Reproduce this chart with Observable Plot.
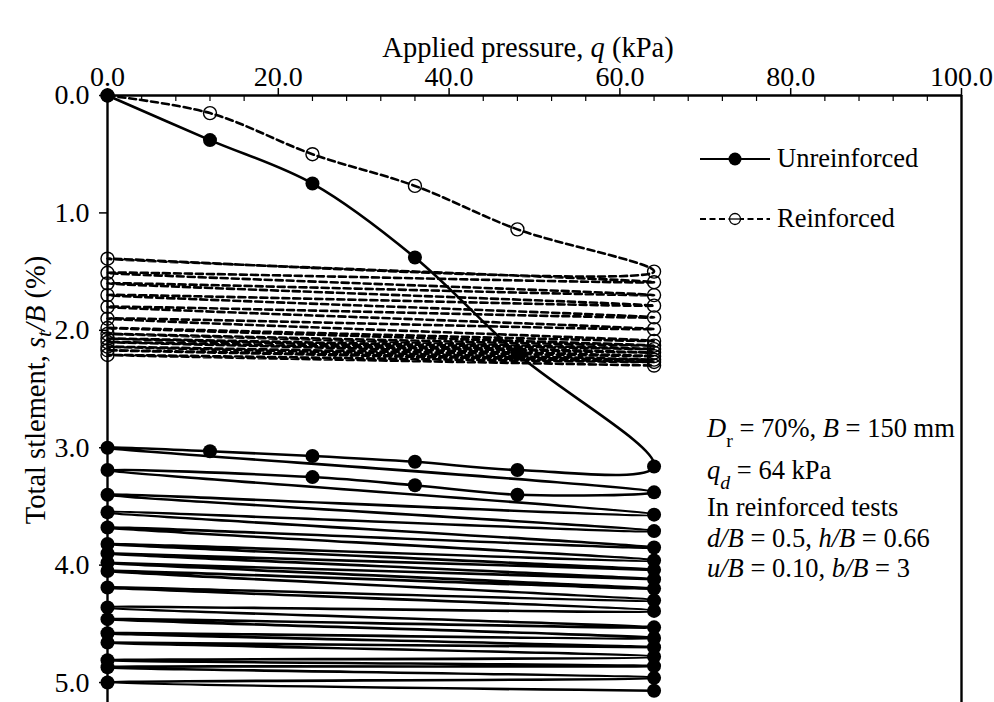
<!DOCTYPE html>
<html>
<head>
<meta charset="utf-8">
<script src="https://cdn.jsdelivr.net/npm/d3@7"></script>
<script src="https://cdn.jsdelivr.net/npm/@observablehq/plot@0.6"></script>
<style>
  body { margin: 0; background: #fff; }
  #chart { position: relative; width: 994px; height: 702px; }
  #chart svg { overflow: visible; }
</style>
</head>
<body>
<div id="chart"></div>
<script>
// Pressure steps of the monotonic loading stage, q (kPa)
const loadSteps = [0, 12, 24, 36, 48, 64];
// Total settlement s_t/B (%) at those steps
const unreinforcedLoading = [0, 0.38, 0.75, 1.38, 2.20, 3.16];
const reinforcedLoading = [0, 0.15, 0.50, 0.77, 1.14, 1.50];

// Unreinforced: readings taken during the first two unloading branches (q = 48, 36, 24, 12)
const firstUnloadSteps = [48, 36, 24, 12];
const firstUnloadSettle = [3.19, 3.12, 3.07, 3.03];
const secondUnloadSteps = [48, 36, 24];
const secondUnloadSettle = [3.40, 3.32, 3.25];

// Cyclic stage, unreinforced: settlement at q = 0 after each unloading, and at q = qd after each reloading
const unreinforcedTroughs = [3.00, 3.19, 3.40, 3.55, 3.68, 3.82, 3.90, 3.98, 4.05, 4.19, 4.36, 4.46, 4.58, 4.66, 4.81, 4.87, 5.00];
const unreinforcedPeaks   = [3.38, 3.57, 3.71, 3.85, 3.96, 4.04, 4.12, 4.20, 4.30, 4.39, 4.53, 4.62, 4.70, 4.78, 4.86, 4.96, 5.07];

// Cyclic stage, reinforced
const reinforcedTroughs = [1.39, 1.51, 1.60, 1.70, 1.80, 1.90, 1.98, 2.03, 2.07, 2.10, 2.14, 2.17, 2.21];
const reinforcedPeaks   = [1.59, 1.70, 1.79, 1.89, 1.99, 2.09, 2.13, 2.16, 2.19, 2.22, 2.25, 2.27, 2.30];

const qd = 64;          // cyclic load amplitude (kPa)
const qMin = 0;

// Axis ticks
const xTicks = [0, 20, 40, 60, 80, 100];
const xMinorTicks = d3.range(4, 100, 4).filter(v => v % 20 !== 0);
const yTicks = [0, 1, 2, 3, 4, 5];

// Assemble the load path of each test in order of application
function unreinforcedPath() {
  const pts = loadSteps.map((q, i) => ({q, s: unreinforcedLoading[i]}));
  unreinforcedTroughs.forEach((sTrough, i) => {
    if (i === 0) firstUnloadSteps.forEach((q, j) => pts.push({q, s: firstUnloadSettle[j]}));
    if (i === 1) secondUnloadSteps.forEach((q, j) => pts.push({q, s: secondUnloadSettle[j]}));
    pts.push({q: qMin, s: sTrough});
    pts.push({q: qd, s: unreinforcedPeaks[i]});
  });
  return pts;
}
function reinforcedPath() {
  const pts = loadSteps.map((q, i) => ({q, s: reinforcedLoading[i]}));
  reinforcedTroughs.forEach((sTrough, i) => {
    pts.push({q: qMin, s: sTrough});
    pts.push({q: qd, s: reinforcedPeaks[i]});
  });
  return pts;
}
const unreinforced = unreinforcedPath();
const reinforced = reinforcedPath();

const W = 994, H = 702, mTop = 95, mLeft = 107, mRight = 33, mBottom = 0;
const font = "'Liberation Serif', 'Times New Roman', serif";

const chart = Plot.plot({
  width: W,
  height: H,
  marginTop: mTop,
  marginLeft: mLeft,
  marginRight: mRight,
  marginBottom: mBottom,
  style: {fontFamily: font, fontSize: "28px", color: "black", background: "white", overflow: "visible"},
  x: {domain: [0, 100]},
  y: {domain: [0, 5.17], reverse: true},
  marks: [
    Plot.axisX({anchor: "top", ticks: xTicks, tickFormat: d3.format(".1f"), tickSize: 8, tickPadding: 2, strokeWidth: 1.5, label: null}),
    Plot.ruleX(xMinorTicks, {insetBottom: H - mTop - mBottom - 6, strokeWidth: 1.2}),
    Plot.axisY({anchor: "left", ticks: yTicks, tickFormat: d3.format(".1f"), tickSize: 8, tickPadding: 10, strokeWidth: 1.5, label: null}),
    Plot.ruleY([0], {strokeWidth: 2.4}),
    Plot.ruleX([0, 100], {strokeWidth: 2.4}),
    Plot.line(unreinforced, {x: "q", y: "s", curve: "catmull-rom", stroke: "black", strokeWidth: 2.6}),
    Plot.dot(unreinforced, {x: "q", y: "s", r: 7, fill: "black"}),
    Plot.line(reinforced, {x: "q", y: "s", curve: "catmull-rom", stroke: "black", strokeWidth: 2.6, strokeDasharray: "7,4"}),
    Plot.dot(reinforced, {x: "q", y: "s", r: 6.5, fill: "none", stroke: "black", strokeWidth: 1.4})
  ]
});
document.getElementById("chart").append(chart);

// Rich text helper: parts = [{t, i (italic), sub (subscript)}]
const svg = d3.select(chart);
function richText(g, parts, subShift) {
  let shifted = false;
  parts.forEach(p => {
    const ts = g.append("tspan").text(p.t);
    if (p.i) ts.attr("font-style", "italic");
    if (p.sub) {
      ts.attr("font-size", "0.75em").attr("dy", shifted ? 0 : subShift);
      shifted = true;
    } else if (shifted) {
      ts.attr("dy", -subShift);
      shifted = false;
    }
  });
}

// Axis titles
const xTitle = svg.append("text")
  .attr("x", (mLeft + W - mRight) / 2 - 6).attr("y", 57)
  .attr("text-anchor", "middle").attr("font-family", font).attr("font-size", 28.5).attr("fill", "black");
richText(xTitle, [{t: "Applied pressure, "}, {t: "q", i: true}, {t: " (kPa)"}], 0);

const yTitle = svg.append("text")
  .attr("transform", "translate(45,390) rotate(-90)")
  .attr("text-anchor", "middle").attr("font-family", font).attr("font-size", 28.5).attr("fill", "black");
richText(yTitle, [{t: "Total stlement, "}, {t: "s", i: true}, {t: "t", i: true, sub: true}, {t: "/B", i: true}, {t: " (%)"}], 6);

// Legend
const legend = svg.append("g").attr("font-family", font).attr("font-size", 26.5).attr("text-anchor", "start");
const legendItems = [
  {label: "Unreinforced", y: 159, dash: null, filled: true},
  {label: "Reinforced", y: 219, dash: "6,3.5", filled: false}
];
legendItems.forEach(d => {
  legend.append("line").attr("x1", 700).attr("x2", 770).attr("y1", d.y).attr("y2", d.y)
    .attr("stroke", "black").attr("stroke-width", 2.2).attr("stroke-dasharray", d.dash);
  legend.append("circle").attr("cx", 735).attr("cy", d.y).attr("r", d.filled ? 6.5 : 5.5)
    .attr("fill", d.filled ? "black" : "white").attr("stroke", d.filled ? "none" : "black").attr("stroke-width", 1.3);
  if (!d.filled) {
    legend.append("line").attr("x1", 729).attr("x2", 741).attr("y1", d.y).attr("y2", d.y)
      .attr("stroke", "black").attr("stroke-width", 1.3);
  }
  legend.append("text").attr("x", 777).attr("y", d.y + 8).attr("fill", "black").text(d.label);
});

// Test conditions
const notes = [
  {y: 437, parts: [{t: "D", i: true}, {t: "r", sub: true}, {t: " = 70%, "}, {t: "B", i: true}, {t: " = 150 mm"}]},
  {y: 479, parts: [{t: "q", i: true}, {t: "d", i: true, sub: true}, {t: " = 64 kPa"}]},
  {y: 516, parts: [{t: "In reinforced tests"}]},
  {y: 547, parts: [{t: "d/B", i: true}, {t: " = 0.5, "}, {t: "h/B", i: true}, {t: " = 0.66"}]},
  {y: 577, parts: [{t: "u/B", i: true}, {t: " = 0.10, "}, {t: "b/B", i: true}, {t: " = 3"}]}
];
notes.forEach(n => {
  const t = svg.append("text").attr("x", 707).attr("y", n.y).attr("text-anchor", "start")
    .attr("font-family", font).attr("font-size", 26.5).attr("fill", "black");
  richText(t, n.parts, 10);
});
</script>
</body>
</html>
